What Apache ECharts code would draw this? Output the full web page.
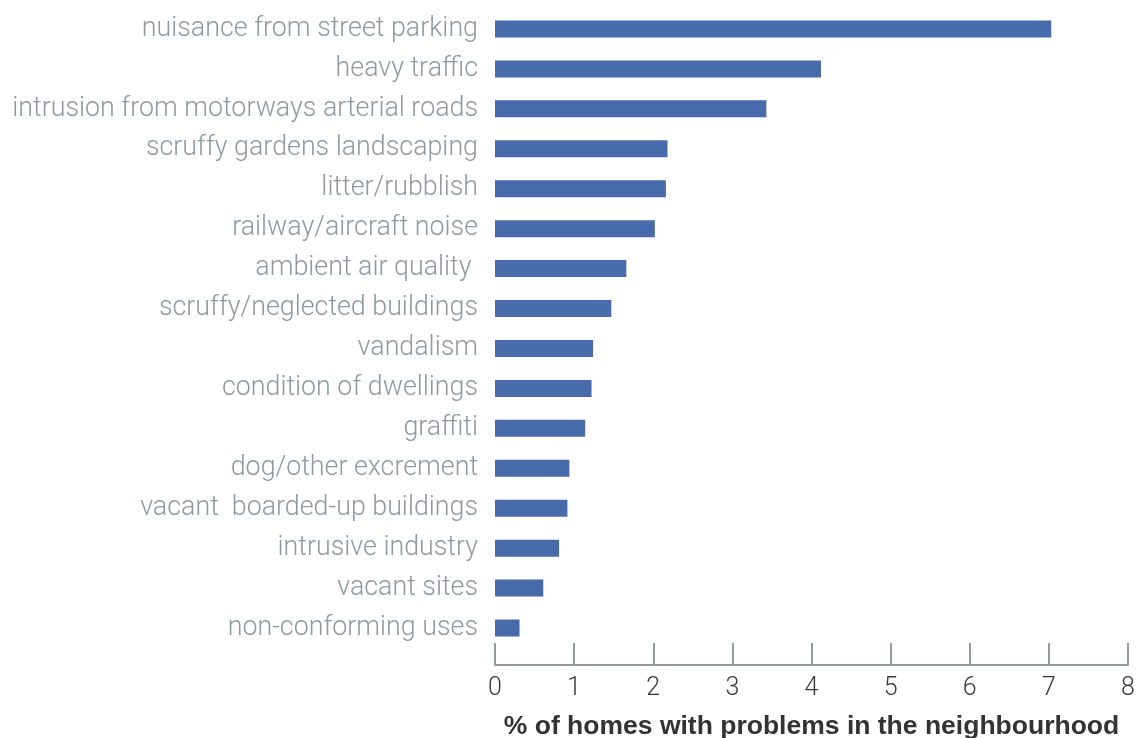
<!DOCTYPE html>
<html><head><meta charset="utf-8">
<script src="https://cdn.jsdelivr.net/npm/echarts@6/dist/echarts.min.js"></script>
<style>html,body{margin:0;padding:0;background:#fff}#c{width:1138px;height:738px}</style>
</head><body><div id="c"></div>
<script>
const categories = [
  "nuisance from street parking",
  "heavy traffic",
  "intrusion from motorways arterial roads",
  "scruffy gardens landscaping",
  "litter/rubblish",
  "railway/aircraft noise",
  "ambient air quality ",
  "scruffy/neglected buildings",
  "vandalism",
  "condition of dwellings",
  "graffiti",
  "dog/other excrement",
  "vacant  boarded-up buildings",
  "intrusive industry",
  "vacant sites",
  "non-conforming uses"
];
const values = [7.03, 4.12, 3.43, 2.18, 2.16, 2.02, 1.66, 1.47, 1.24, 1.22, 1.14, 0.94, 0.915, 0.81, 0.61, 0.31];
const xTicks = [0, 1, 2, 3, 4, 5, 6, 7, 8];
const axisTitle = "% of homes with problems in the neighbourhood";

const chart = echarts.init(document.getElementById('c'), null, {renderer: 'canvas'});
chart.setOption({
  animation: false,
  backgroundColor: '#ffffff',
  grid: {left: 495, right: 10, top: 9, bottom: 90, containLabel: false, outerBoundsMode: 'none'},
  xAxis: {
    type: 'value',
    min: xTicks[0], max: xTicks[xTicks.length - 1], interval: 1,
    offset: 17,
    splitLine: {show: false},
    axisLine: {show: true, lineStyle: {color: '#929ca5', width: 2}},
    axisTick: {show: true, inside: true, length: 22, lineStyle: {color: '#929ca5', width: 2}},
    axisLabel: {color: '#3a3a3a', fontSize: 25, fontFamily: 'Roboto', fontWeight: 300, margin: 11},
    name: axisTitle,
    nameLocation: 'middle',
    nameGap: 48,
    nameTextStyle: {color: '#333333', fontSize: 26.5, fontWeight: 'bold', fontFamily: 'Liberation Sans'}
  },
  yAxis: {
    type: 'category',
    data: categories,
    inverse: true,
    axisLine: {show: false},
    axisTick: {show: false},
    axisLabel: {color: '#8e99a2', fontSize: 26.8, fontFamily: 'Roboto', fontWeight: 300, margin: 17}
  },
  series: [{
    type: 'bar',
    data: values,
    barWidth: 17,
    itemStyle: {color: '#486cab'}
  }]
});
</script>
</body></html>
